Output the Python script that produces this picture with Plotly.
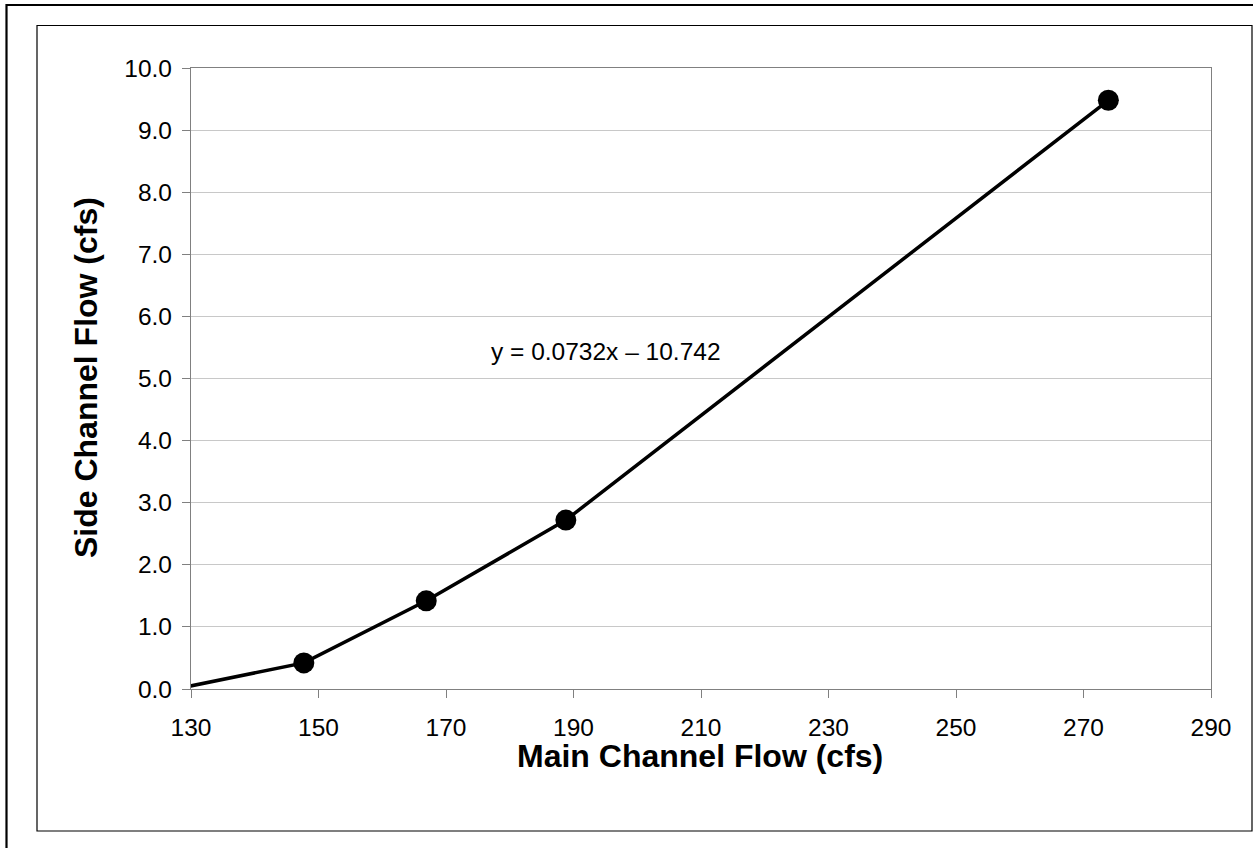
import plotly.graph_objects as go

# main channel flow (cfs) vs side channel flow (cfs)
main_flow = [129.0, 147.7, 166.9, 188.8, 273.9]
side_flow = [0.03, 0.42, 1.42, 2.72, 9.48]
marker_sizes = [0, 21, 21, 21, 21]

eq_text = "y = 0.0732x \u2013 10.742"
eq_x = 195.1
eq_y = 5.43

x_title = "<b>Main Channel Flow (cfs)</b>"
y_title = "<b>Side Channel Flow (cfs)</b>"

W, H = 1253, 848
L, R, T, B = 191, 1211, 68, 689


def px_x(p):
    return (p - L) / (R - L)


def px_y(p):
    return (B - p) / (B - T)


fig = go.Figure()
fig.add_trace(go.Scatter(
    x=main_flow, y=side_flow,
    mode="lines+markers",
    line=dict(color="black", width=3.5),
    marker=dict(color="black", size=marker_sizes, opacity=1, line=dict(width=0)),
    showlegend=False,
))

fig.add_annotation(x=eq_x, y=eq_y, text=eq_text, showarrow=False,
                   font=dict(family="Liberation Sans", size=24.5, color="black"))

# axis titles as annotations so they sit exactly
fig.add_annotation(xref="paper", yref="paper", x=px_x(700), y=px_y(756),
                   text=x_title, showarrow=False, xanchor="center", yanchor="middle",
                   font=dict(size=32))
fig.add_annotation(xref="paper", yref="paper", x=px_x(86), y=px_y(378),
                   text=y_title, showarrow=False, textangle=-90,
                   xanchor="center", yanchor="middle", font=dict(size=32))

# outer and inner frames
fig.add_shape(type="rect", xref="paper", yref="paper",
              x0=px_x(6.5), x1=px_x(1270), y0=px_y(5), y1=px_y(870),
              line=dict(color="black", width=2.2))
fig.add_shape(type="rect", xref="paper", yref="paper",
              x0=px_x(37), x1=px_x(1252), y0=px_y(25.5), y1=px_y(831),
              line=dict(color="black", width=1.2))

fig.update_layout(
    width=W, height=H,
    margin=dict(l=L, r=W - R, t=T, b=H - B, autoexpand=False),
    paper_bgcolor="white", plot_bgcolor="white",
    font=dict(family="Liberation Sans", color="black"),
)
fig.update_xaxes(
    range=[130, 290], tick0=130, dtick=20,
    showgrid=False, zeroline=False,
    showline=True, linecolor="#808080", linewidth=1.3, mirror=True,
    ticks="outside", ticklen=8, tickcolor="#808080",
    tickfont=dict(size=24.5), ticklabelstandoff=8,
)
fig.update_yaxes(
    range=[0, 10], tick0=0, dtick=1, tickformat=".1f",
    showgrid=True, gridcolor="#c8c8c8", gridwidth=1, zeroline=False,
    showline=True, linecolor="#808080", linewidth=1.3, mirror=True,
    ticks="outside", ticklen=8, tickcolor="#808080",
    tickfont=dict(size=24.5), ticklabelstandoff=5,
)

fig.write_html("out.html", config={"displayModeBar": False},
               post_script="document.body.style.margin='0';")
